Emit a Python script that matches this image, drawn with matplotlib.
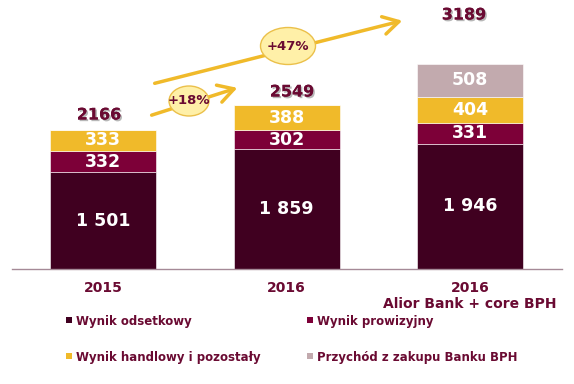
import matplotlib.pyplot as plt
import matplotlib.patheffects as pe
from matplotlib.patches import Ellipse, FancyArrowPatch

# dane
kategorie = ['2015', '2016', '2016']
podpis_bph = 'Alior Bank + core BPH'
odsetkowy = [1501, 1859, 1946]
prowizyjny = [332, 302, 331]
handlowy = [333, 388, 404]
bph = [0, 0, 508]
sumy = [2166, 2549, 3189]
etykiety_odsetkowy = ['1 501', '1 859', '1 946']
wzrosty = ['+18%', '+47%']
serie = ['Wynik odsetkowy', 'Wynik prowizyjny', 'Wynik handlowy i pozostały', 'Przychód z zakupu Banku BPH']

kolory = ['#400020', '#7D0038', '#F0BA2A', '#C2AAAE']
tekst = '#6A0A32'

W, H = 574, 384
fig = plt.figure(figsize=(W / 100, H / 100), dpi=100)

# os glowna (slupki)
ax = fig.add_axes([12 / W, 1 - 269 / H, (562 - 12) / W, 269 / H])
x = [0, 1, 2]
ax.set_xlim((12 - 103) / 183.5, (562 - 103) / 183.5)
ax.set_ylim(0, 269 / 0.0643)
for s in ['top', 'right', 'left']:
    ax.spines[s].set_visible(False)
ax.spines['bottom'].set_color('#A58A97')
ax.spines['bottom'].set_linewidth(1)
ax.set_xticks([])
ax.set_yticks([])
ax.patch.set_alpha(0)

szer = 106 / 183.5
dol = [0, 0, 0]
segmenty = [odsetkowy, prowizyjny, handlowy, bph]
for i, seg in enumerate(segmenty):
    ax.bar(x, seg, width=szer, bottom=dol, color=kolory[i], edgecolor='white', linewidth=0.4, label=serie[i])
    for j in range(3):
        if seg[j] > 0:
            lab = etykiety_odsetkowy[j] if i == 0 else str(seg[j])
            ax.text(x[j], dol[j] + seg[j] / 2, lab, ha='center', va='center', color='white',
                    fontsize=12.5, fontweight='bold')
    dol = [dol[k] + seg[k] for k in range(3)]

# nakladka w pikselach na adnotacje
ov = fig.add_axes([0, 0, 1, 1])
ov.set_xlim(0, W)
ov.set_ylim(H, 0)
ov.axis('off')
ov.patch.set_alpha(0)

cien = [pe.withSimplePatchShadow(offset=(1.2, -1.2), shadow_rgbFace='#999999', alpha=0.7), pe.Normal()]
poz_sum = [(99, 115), (292, 92), (464, 15)]
for (px, py), v in zip(poz_sum, sumy):
    ov.text(px, py, str(v), ha='center', va='center', color=tekst, fontsize=11.5,
            fontweight='bold', path_effects=cien)

# strzalki
zloty = '#F0BA2A'
for (x0, y0, x1, y1) in [(149, 116, 240, 87), (152, 84, 405, 20)]:
    ov.add_patch(FancyArrowPatch((x0, y0), (x1, y1), arrowstyle='->,head_length=7,head_width=4',
                                 color=zloty, lw=2.5, mutation_scale=1.6))
for (cx, cy, w, h), t in [((189, 101, 40, 30), wzrosty[0]), ((288, 46, 55, 37), wzrosty[1])]:
    ov.add_patch(Ellipse((cx, cy), w, h, facecolor='#FFF0A8', edgecolor='#EBC04A', lw=1))
    ov.text(cx, cy, t, ha='center', va='center', color=tekst, fontsize=9.5, fontweight='bold')

# etykiety kategorii
for j, k in enumerate(kategorie):
    ov.text(103 + 183.5 * j, 288, k, ha='center', va='center', color=tekst, fontsize=10, fontweight='bold')
ov.text(470, 304, podpis_bph, ha='center', va='center', color=tekst, fontsize=10, fontweight='bold')

# legenda
poz_leg = [(69, 322), (310, 322), (69, 358), (310, 358)]
for (px, py), s, c in zip(poz_leg, serie, kolory):
    ov.scatter([px], [py - 2], marker='s', s=22, color=c, linewidths=0)
    ov.text(px + 7, py, s, ha='left', va='center', color=tekst, fontsize=8.5, fontweight='bold')

fig.savefig('out.png', dpi=100)
